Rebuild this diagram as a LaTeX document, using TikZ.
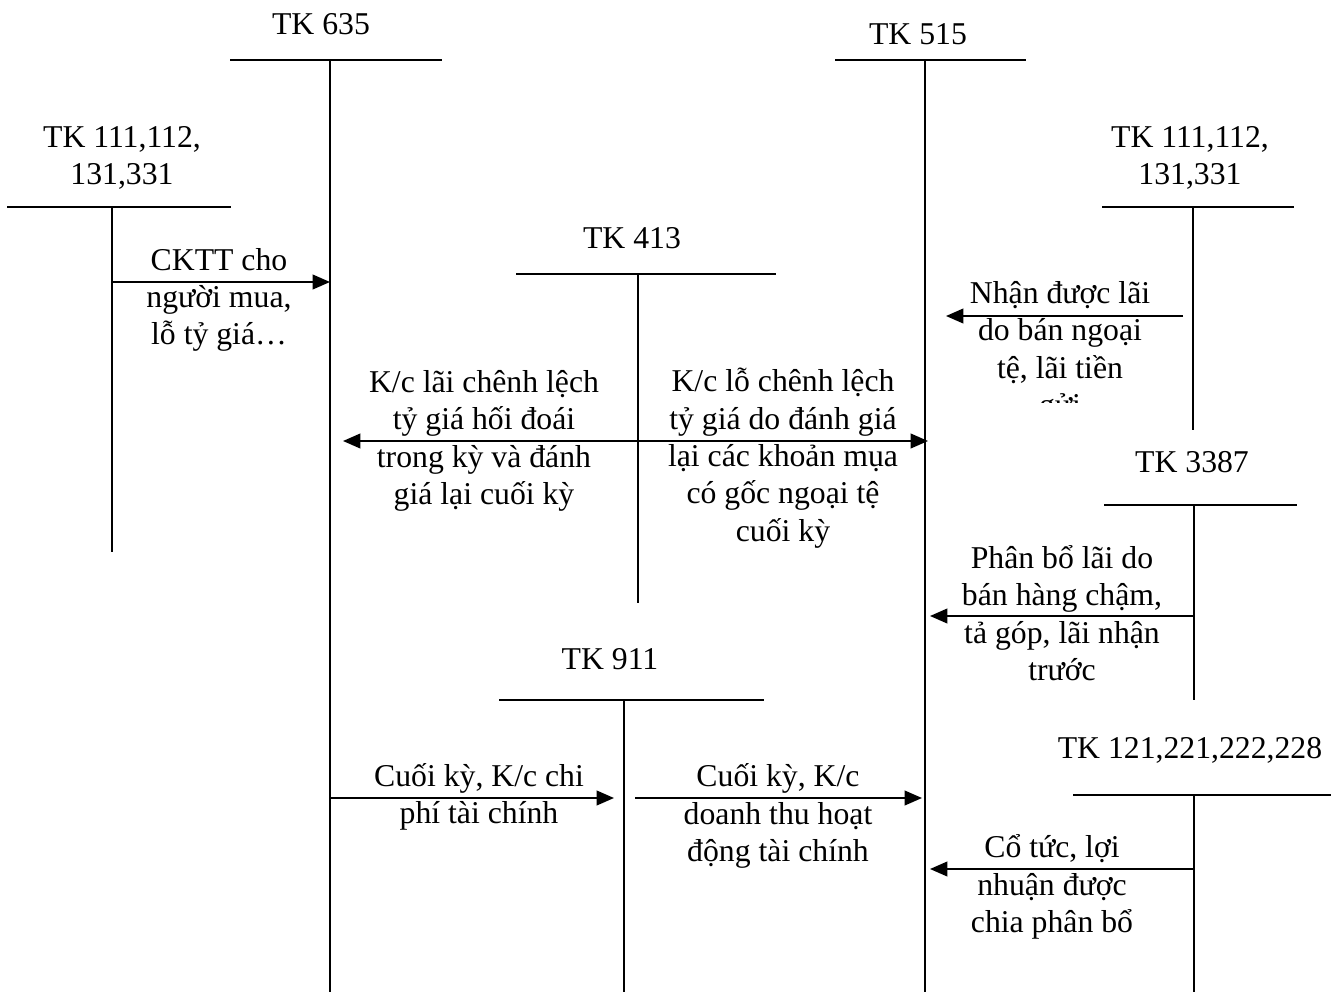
\documentclass[tikz,border=0pt]{standalone}
\usepackage{fontspec}
\setmainfont{Liberation Serif}
\usetikzlibrary{arrows.meta}

\begin{document}
\begin{tikzpicture}[x=0.75pt, y=-0.75pt,
  ln/.style={line width=1.4pt},
  arr/.style={line width=1.4pt, -{Triangle[length=13pt,width=11pt]}},
  lbl/.style={align=center, inner sep=0pt, font=\fontsize{23.8}{28}\selectfont}
]
\useasboundingbox (0,0) rectangle (1339,992);
% T accounts: name / bar left / bar right / bar y / stem x / stem end
\foreach \n/\l/\r/\y/\x/\e in {t635/230/442/60/330/992, t515/835/1026/60/925/992, tl111/7/231/207/112/552, tr111/1102/1294/207/1193/430, t413/516/776/274/638/603, t3387/1104/1297/505/1194/700, t911/499/764/700/624/992, t121/1073/1331/795/1194/992} {
  \coordinate (\n-l) at (\l,\y); \coordinate (\n-r) at (\r,\y);
  \coordinate (\n-t) at (\x,\y); \coordinate (\n-b) at (\x,\e);
  \draw[ln] (\n-l) -- (\n-r); \draw[ln] (\n-t) -- (\n-b);
}
% account titles
\node[lbl] (h635) at (321,24) {TK 635};
\node[lbl] (h515) at (918,34) {TK 515};
\node[lbl] (hl111) at (122,158) {TK 111,112,\\131,331};
\node[lbl] (hr111) at (1190,158) {TK 111,112,\\131,331};
\node[lbl] (h413) at (632,238) {TK 413};
\node[lbl] (h3387) at (1192,462) {TK 3387};
\node[lbl] (h911) at (610,659) {TK 911};
\node[lbl] (h121) at (1190,750) {TK 121,221,222,228};
% entries
\coordinate (a1s) at (112,282); \coordinate (a1e) at (330,282);
\coordinate (a2s) at (638,441); \coordinate (a2l) at (343,441); \coordinate (a2r) at (928,441);
\coordinate (a3s) at (1183,316); \coordinate (a3e) at (946,316);
\coordinate (a4s) at (1194,616); \coordinate (a4e) at (930,616);
\coordinate (a5s) at (330,798); \coordinate (a5e) at (614,798);
\coordinate (a6s) at (635,798); \coordinate (a6e) at (922,798);
\coordinate (a7s) at (1194,869); \coordinate (a7e) at (930,869);
\foreach \s/\e in {a1s/a1e, a2s/a2l, a2s/a2r, a3s/a3e, a4s/a4e, a5s/a5e, a6s/a6e, a7s/a7e}
  \draw[arr] (\s) -- (\e);
\node[lbl] (m1) at (219,300) {CKTT cho\\người mua,\\lỗ tỷ giá…};
\node[lbl] (m2) at (484,441) {K/c lãi chênh lệch\\tỷ giá hối đoái\\trong kỳ và đánh\\giá lại cuối kỳ};
\node[lbl] (m3) at (783,458) {K/c lỗ chênh lệch\\tỷ giá do đánh giá\\lại các khoản mụa\\có gốc ngoại tệ\\cuối kỳ};
\begin{scope}
  \clip (900,270) rectangle (1185,402);
  \node[lbl] (m4) at (1060,352) {Nhận được lãi\\do bán ngoại\\tệ, lãi tiền\\gửi};
\end{scope}
\node[lbl] (m5) at (1062,613) {Phân bổ lãi do\\bán hàng chậm,\\tả góp, lãi nhận\\trước};
\node[lbl] (m6) at (479,797) {Cuối kỳ, K/c chi\\phí tài chính};
\node[lbl] (m7) at (778,816) {Cuối kỳ, K/c\\doanh thu hoạt\\động tài chính};
\node[lbl] (m8) at (1052,887) {Cổ tức, lợi\\nhuận được\\chia phân bổ};
\end{tikzpicture}
\end{document}
